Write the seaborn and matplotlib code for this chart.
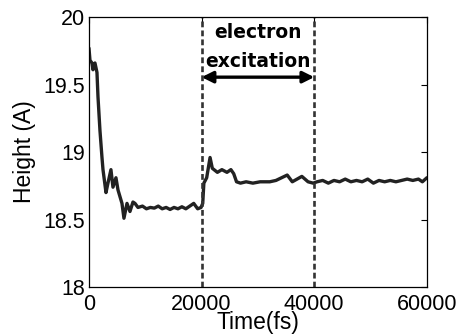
import matplotlib
matplotlib.use("Agg")
import matplotlib.pyplot as plt
import seaborn as sns
import pandas as pd

time_fs = [0, 178, 533, 710, 1065, 1420, 1600, 1950, 2310, 2490, 3020, 3370, 3900, 4260,
           4790, 5150, 5860, 6210, 6750, 7280, 7810, 8170, 8700,
           9500, 10200, 10900, 11600, 12300, 13000, 13700, 14400, 15100, 15800, 16500,
           17200, 17900, 18600, 19300, 19900,
           20200, 20400, 20900, 21500, 21900, 22800, 23600, 24500, 25200, 25700, 26200,
           26900, 27900, 29100, 30400, 32100, 33200, 35200, 36100, 37800, 38900, 39800,
           40500, 41500, 42500, 43500, 44500, 45500, 46500, 47500, 48500, 49500, 50500,
           51500, 52500, 53500, 54500, 55500, 56500, 57500, 58500, 59200, 60000]
height_A = [19.77, 19.68, 19.66, 19.61, 19.66, 19.59, 19.41, 19.16, 18.96, 18.87, 18.70, 18.77,
            18.87, 18.74, 18.81, 18.72, 18.62, 18.51, 18.62, 18.56, 18.63, 18.62, 18.59,
            18.60, 18.58, 18.59, 18.585, 18.60, 18.58, 18.59, 18.575, 18.59, 18.58, 18.595,
            18.58, 18.60, 18.62, 18.58, 18.59,
            18.62, 18.77, 18.81, 18.96, 18.88, 18.85, 18.87, 18.85, 18.87, 18.84, 18.78,
            18.77, 18.78, 18.77, 18.78, 18.78, 18.79, 18.83, 18.78, 18.82, 18.78, 18.77,
            18.78, 18.79, 18.77, 18.79, 18.78, 18.80, 18.78, 18.79, 18.78, 18.80, 18.77,
            18.79, 18.78, 18.79, 18.78, 18.79, 18.80, 18.79, 18.80, 18.78, 18.81]

excitation_start = 20000
excitation_end = 40000
x_ticks = [0, 20000, 40000, 60000]
y_ticks = [18, 18.5, 19, 19.5, 20]
y_tick_labels = ["18", "18.5", "19", "19.5", "20"]

sns.set_style("white")
plt.rcParams["font.family"] = ["Liberation Sans", "DejaVu Sans"]
plt.rcParams["text.color"] = "black"
plt.rcParams["axes.labelcolor"] = "black"
plt.rcParams["xtick.color"] = "black"
plt.rcParams["ytick.color"] = "black"

df = pd.DataFrame({"time": time_fs, "height": height_A})

fig = plt.figure(figsize=(4.61, 3.35), dpi=100)
ax = fig.add_axes([0.193, 0.143, 0.733, 0.806])
sns.lineplot(data=df, x="time", y="height", ax=ax, color="#222222", linewidth=2.4)

for xv in (excitation_start, excitation_end):
    ax.axvline(xv, color="#333333", linewidth=1.9, linestyle=(0, (2.2, 1.2)))

ax.annotate("", xy=(excitation_start, 19.555), xytext=(excitation_end, 19.555),
            arrowprops=dict(arrowstyle="<|-|>", color="black", lw=2.4, mutation_scale=17,
                            shrinkA=0, shrinkB=0))
ax.text(30000, 19.842, "electron", ha="center", va="baseline",
        fontsize=13.5, fontweight="bold", family=["DejaVu Sans"])
ax.text(30000, 19.627, "excitation", ha="center", va="baseline",
        fontsize=13.5, fontweight="bold", family=["DejaVu Sans"])

ax.set_xlim(0, 60000)
ax.set_ylim(18, 20)
ax.set_xticks(x_ticks)
ax.set_xticklabels([str(t) for t in x_ticks])
ax.set_yticks(y_ticks)
ax.set_yticklabels(y_tick_labels)
ax.tick_params(direction="in", length=4, width=0.8, labelsize=15.5, top=True, right=True,
               pad=3)
ax.tick_params(axis="x", pad=5)
for s in ax.spines.values():
    s.set_color("black")
    s.set_linewidth(0.9)
ax.set_xlabel("Time(fs)", fontsize=16.5, labelpad=-3)
ax.set_ylabel("Height (A)", fontsize=16.5, labelpad=5)

fig.savefig("out.png", dpi=100)
